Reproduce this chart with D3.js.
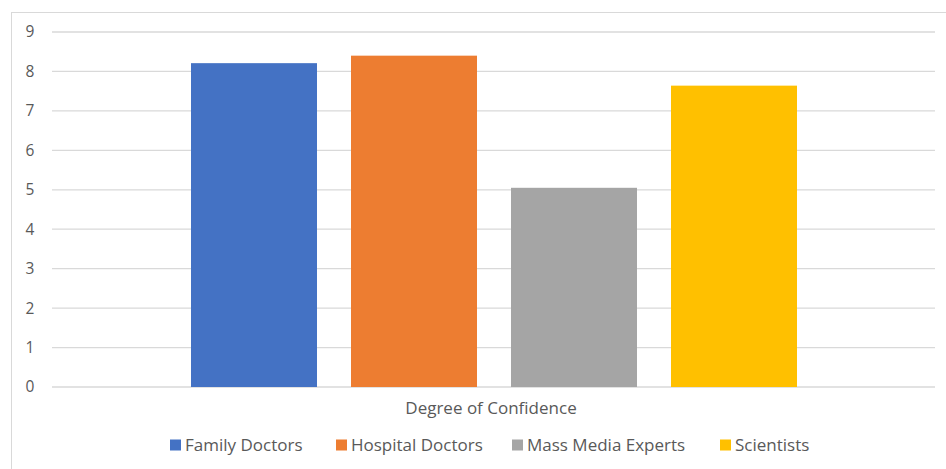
<!DOCTYPE html>
<html>
<head>
<meta charset="utf-8">
<script src="https://cdn.jsdelivr.net/npm/d3@7"></script>
<style>
  body { margin: 0; background: #fff; }
  text { font-family: "Open Sans", "Liberation Sans", sans-serif; fill: #595959; }
</style>
</head>
<body>
<div id="chart"></div>
<script>
// data
const series = ["Family Doctors", "Hospital Doctors", "Mass Media Experts", "Scientists"];
const values = [8.21, 8.40, 5.05, 7.64];
const colors = ["#4472c4", "#ed7d31", "#a5a5a5", "#ffc000"];
const yTicks = [0, 1, 2, 3, 4, 5, 6, 7, 8, 9];
const category = "Degree of Confidence";

const width = 946, height = 469;
const plot = {left: 52, right: 935, top: 32, bottom: 387};

const svg = d3.select("#chart").append("svg")
    .attr("width", width)
    .attr("height", height);

// chart area frame
svg.append("rect")
    .attr("x", 11.5).attr("y", 12.5)
    .attr("width", 950).attr("height", 470)
    .attr("fill", "none")
    .attr("stroke", "#d9d9d9");

const y = d3.scaleLinear().domain([0, 9]).range([plot.bottom, plot.top]);

// one category, bars placed inside its band
const x = d3.scaleBand().domain(series)
    .range([191, 797])
    .paddingInner(34 / 160).paddingOuter(0);

// gridlines
svg.append("g")
    .selectAll("line")
    .data(yTicks)
    .enter().append("line")
    .attr("x1", plot.left).attr("x2", plot.right)
    .attr("y1", d => y(d)).attr("y2", d => y(d))
    .attr("stroke", "#d9d9d9")
    .attr("stroke-width", 1.3);

// y labels
svg.append("g")
    .selectAll("text")
    .data(yTicks)
    .enter().append("text")
    .attr("x", 30)
    .attr("y", d => y(d))
    .attr("dy", "0.35em")
    .attr("text-anchor", "middle")
    .style("font-size", "15.5px")
    .text(d => d);

// bars
svg.append("g")
    .selectAll("rect")
    .data(series)
    .enter().append("rect")
    .attr("x", d => x(d))
    .attr("width", x.bandwidth())
    .attr("y", (d, i) => y(values[i]))
    .attr("height", (d, i) => y(0) - y(values[i]))
    .attr("fill", (d, i) => colors[i]);

// category label
svg.append("text")
    .attr("x", 491).attr("y", 408)
    .attr("dy", "0.35em")
    .attr("text-anchor", "middle")
    .style("font-size", "17px")
    .text(category);

// legend
const legendX = [170, 336, 512, 720];
const legend = svg.append("g")
    .selectAll("g")
    .data(series)
    .enter().append("g")
    .attr("transform", (d, i) => `translate(${legendX[i]},445)`);

legend.append("rect")
    .attr("x", 0).attr("y", -5.5)
    .attr("width", 11).attr("height", 11)
    .attr("fill", (d, i) => colors[i]);

legend.append("text")
    .attr("x", 15)
    .attr("dy", "0.35em")
    .style("font-size", "17px")
    .text(d => d);
</script>
</body>
</html>
